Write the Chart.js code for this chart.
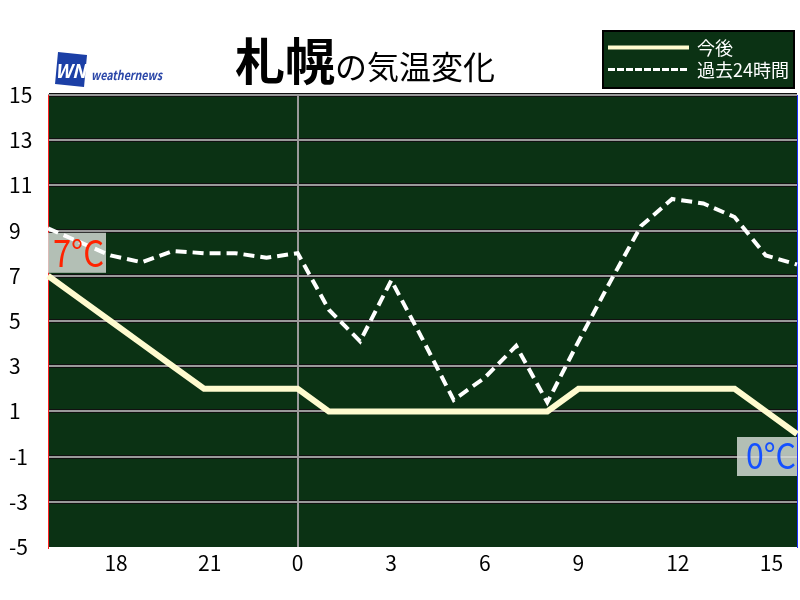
<!DOCTYPE html>
<html lang="ja">
<head>
<meta charset="UTF-8">
<title>札幌の気温変化</title>
<style>
  html, body { margin: 0; padding: 0; background: #fff; }
  #wrap { width: 800px; height: 600px; }
</style>
<script src="https://cdn.jsdelivr.net/npm/chart.js@4.4.1/dist/chart.umd.min.js"></script>
</head>
<body>
<div id="wrap"><canvas id="tempChart" width="800" height="600"></canvas></div>
<script>
// 時刻 (16時〜翌16時)
const hours = [16, 17, 18, 19, 20, 21, 22, 23, 0, 1, 2, 3, 4, 5, 6, 7, 8, 9, 10, 11, 12, 13, 14, 15, 16];
// 今後の予想気温
const forecast = [7, 6, 5, 4, 3, 2, 2, 2, 2, 1, 1, 1, 1, 1, 1, 1, 1, 2, 2, 2, 2, 2, 2, 1, 0];
// 過去24時間の気温
const past24 = [9.1, 8.5, 7.9, 7.6, 8.1, 8.0, 8.0, 7.8, 8.0, 5.5, 4.1, 6.8, 4.2, 1.5, 2.5, 3.9, 1.4, 4.1, 6.7, 9.2, 10.4, 10.2, 9.6, 7.9, 7.5];
const yTicks = [-5, -3, -1, 1, 3, 5, 7, 9, 11, 13, 15];

const FONT = '"Noto Sans CJK JP", "Noto Sans", sans-serif';
const PLOT_BG = '#0b3214';
const LINE_NOW = '#fffbcf';
const GRID = '#9a9a9a';

const setTicks = s => { s.ticks = yTicks.map(v => ({ value: v })); };

// 背景・タイトル・ロゴ・凡例・温度ラベル
const decor = {
    id: 'decor',
    beforeDraw(chart) {
        const { ctx, chartArea: a } = chart;
        ctx.save();
        ctx.fillStyle = '#fff';
        ctx.fillRect(0, 0, chart.width, chart.height);
        ctx.fillStyle = PLOT_BG;
        ctx.fillRect(a.left, a.top, a.right - a.left, a.bottom - a.top);
        ctx.restore();
    },
    beforeDatasetsDraw(chart) {
        const { ctx } = chart;
        const x = chart.scales.x, y = chart.scales.y;
        const last = forecast.length - 1;
        const x0 = x.getPixelForValue(0), y0 = y.getPixelForValue(forecast[0]);
        const xN = x.getPixelForValue(last), yN = y.getPixelForValue(forecast[last]);
        ctx.save();
        ctx.fillStyle = 'rgba(212,218,212,0.84)';
        ctx.fillRect(x0, y0 - 43, 58, 40);
        ctx.fillRect(xN - 60, yN + 3, 60, 39);
        ctx.restore();
    },
    afterDatasetsDraw(chart) {
        const { ctx } = chart;
        const x = chart.scales.x, y = chart.scales.y;
        const last = forecast.length - 1;
        const x0 = x.getPixelForValue(0), y0 = y.getPixelForValue(forecast[0]);
        const xN = x.getPixelForValue(last), yN = y.getPixelForValue(forecast[last]);
        ctx.save();
        ctx.textBaseline = 'alphabetic';
        ctx.textAlign = 'left';
        ctx.font = '37px ' + FONT;
        ctx.fillStyle = '#ff2200';
        ctx.fillText(forecast[0] + '°C', x0 + 5, y0 - 9, 51);
        ctx.font = '35px ' + FONT;
        ctx.fillStyle = '#1450ff';
        ctx.fillText(forecast[last] + '°C', xN - 51, yN + 35, 50);
        ctx.restore();
    },
    afterDraw(chart) {
        const { ctx } = chart;
        ctx.save();
        // タイトル
        ctx.fillStyle = '#000';
        ctx.textBaseline = 'alphabetic';
        ctx.textAlign = 'left';
        ctx.font = 'bold 50px ' + FONT;
        ctx.fillText('札幌', 235, 80);
        ctx.font = '32px ' + FONT;
        ctx.fillText('の気温変化', 335, 79);

        // ロゴ
        ctx.fillStyle = '#1b3fa6';
        ctx.beginPath();
        ctx.moveTo(58, 52);
        ctx.lineTo(87, 55);
        ctx.lineTo(84, 87);
        ctx.lineTo(55, 84);
        ctx.closePath();
        ctx.fill();
        ctx.fillStyle = '#fff';
        ctx.font = 'italic bold 19px ' + FONT;
        ctx.fillText('WN', 55, 78, 31);
        ctx.fillStyle = '#2a46a8';
        ctx.font = 'italic bold 13px ' + FONT;
        ctx.fillText('weathernews', 91, 80, 71);

        // 凡例
        ctx.fillStyle = PLOT_BG;
        ctx.fillRect(603, 31, 191, 57);
        ctx.strokeStyle = '#000';
        ctx.lineWidth = 2;
        ctx.strokeRect(603, 31, 191, 57);
        ctx.strokeStyle = LINE_NOW;
        ctx.lineWidth = 4;
        ctx.beginPath();
        ctx.moveTo(608, 47.5);
        ctx.lineTo(689, 47.5);
        ctx.stroke();
        ctx.strokeStyle = '#fff';
        ctx.lineWidth = 3;
        ctx.setLineDash([7, 2]);
        ctx.beginPath();
        ctx.moveTo(608, 69.5);
        ctx.lineTo(689, 69.5);
        ctx.stroke();
        ctx.setLineDash([]);
        ctx.fillStyle = '#fff';
        ctx.font = '18px ' + FONT;
        ctx.textBaseline = 'middle';
        ctx.fillText('今後', 697, 48);
        ctx.fillText('過去24時間', 697, 70);
        ctx.restore();
    }
};

const ctx = document.getElementById('tempChart').getContext('2d');
new Chart(ctx, {
    type: 'line',
    data: {
        labels: hours.map(String),
        datasets: [
            {
                label: '過去24時間',
                data: past24,
                borderColor: '#ffffff',
                borderWidth: 4,
                borderDash: [11, 6],
                pointRadius: 0,
                tension: 0
            },
            {
                label: '今後',
                data: forecast,
                borderColor: LINE_NOW,
                borderWidth: 6,
                pointRadius: 0,
                tension: 0
            }
        ]
    },
    options: {
        responsive: false,
        animation: false,
        layout: { padding: { left: 9, right: 3, top: 95, bottom: 0 } },
        plugins: { legend: { display: false }, tooltip: { enabled: false } },
        scales: {
            x: {
                offset: false,
                grid: {
                    color: c => hours[c.index] === 0 ? GRID : 'transparent',
                    lineWidth: 2,
                    drawTicks: false
                },
                border: { display: false },
                ticks: {
                    autoSkip: false,
                    maxRotation: 0,
                    align: 'start',
                    labelOffset: -6,
                    padding: 3,
                    color: '#000',
                    font: { family: FONT, size: 21 },
                    callback: (v, i) => hours[i] % 3 === 0 ? String(hours[i]) : ''
                },
                afterFit: s => { s.height = 53; }
            },
            y: {
                min: -5,
                max: 15,
                afterBuildTicks: setTicks,
                grid: {
                    color: c => c.tick.value === -5 ? 'transparent' : '#111',
                    lineWidth: 4,
                    drawTicks: false,
                    z: -2
                },
                border: { color: '#ff2020', width: 1 },
                ticks: {
                    crossAlign: 'far',
                    padding: 0,
                    color: '#000',
                    font: { family: FONT, size: 21 }
                },
                afterFit: s => { s.width = 39; }
            },
            y2: {
                position: 'right',
                min: -5,
                max: 15,
                afterBuildTicks: setTicks,
                grid: {
                    color: c => c.tick.value === -5 ? 'transparent' : GRID,
                    lineWidth: 2,
                    drawTicks: false,
                    z: -1
                },
                border: { color: '#2030ff', width: 1 },
                ticks: { display: false },
                afterFit: s => { s.width = 0; }
            }
        }
    },
    plugins: [decor]
});
</script>
</body>
</html>
